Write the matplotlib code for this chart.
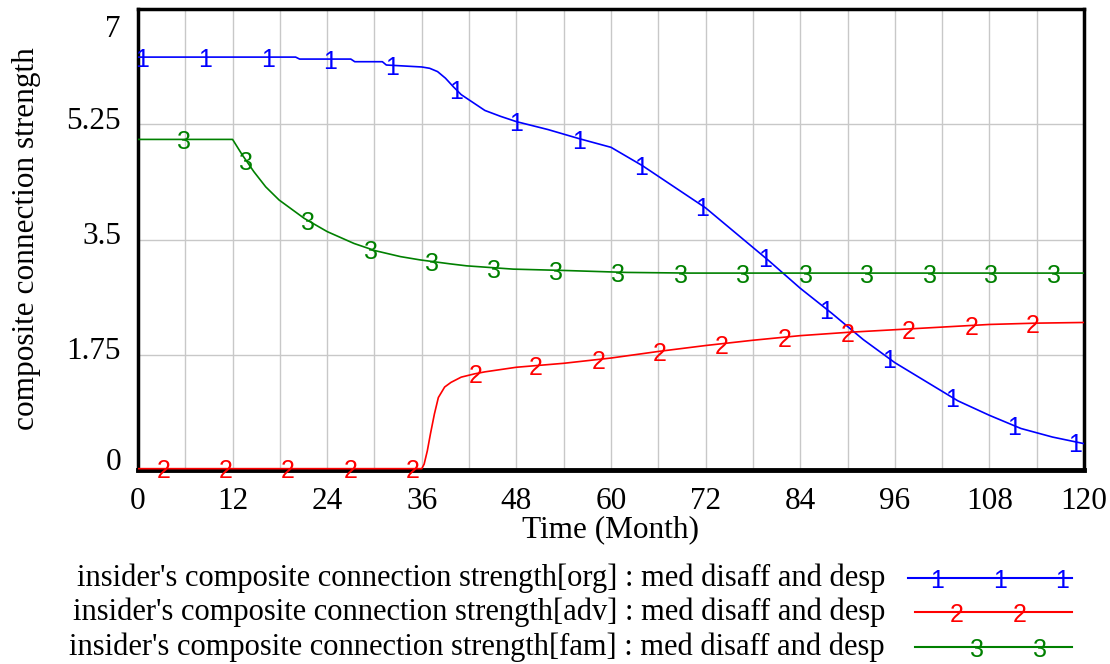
import numpy as np
import matplotlib
matplotlib.use("Agg")
import matplotlib.pyplot as plt
import matplotlib.transforms as mtrans
from matplotlib.lines import Line2D

# values
t_org = [0, 20, 20.5, 27, 27.5, 31, 31.5, 36, 37, 38, 39, 40, 41, 42, 44, 46, 48,
         52, 56, 60, 64, 68, 72, 76, 80, 84, 88, 92, 96, 100, 104, 108, 112, 116, 120]
org = [6.27, 6.27, 6.24, 6.24, 6.20, 6.20, 6.15, 6.12, 6.10, 6.05, 5.95, 5.82, 5.70,
       5.62, 5.46, 5.37, 5.29, 5.17, 5.03, 4.90, 4.62, 4.30, 3.98, 3.58, 3.18, 2.76,
       2.38, 1.98, 1.63, 1.34, 1.05, 0.83, 0.63, 0.50, 0.40]

t_adv = [0, 36, 36.3, 36.7, 37.1, 37.6, 38.1, 38.9, 39.7, 41, 42.7, 44, 48, 54, 60,
         66, 72, 78, 84, 90, 96, 102, 108, 114, 120]
adv = [0.02, 0.02, 0.09, 0.29, 0.55, 0.85, 1.10, 1.26, 1.33, 1.41, 1.46, 1.49, 1.56,
       1.62, 1.70, 1.80, 1.89, 1.97, 2.04, 2.09, 2.13, 2.17, 2.21, 2.23, 2.24]

t_fam = [0, 12, 13.2, 14.7, 16.2, 17.9, 21.1, 24, 27.4, 30.1, 33.3, 35.8, 39.6, 41.7,
         47.6, 54, 62, 70, 120]
fam = [5.02, 5.02, 4.79, 4.53, 4.30, 4.10, 3.82, 3.62, 3.44, 3.33, 3.24, 3.19, 3.13,
       3.10, 3.05, 3.03, 3.00, 2.99, 2.99]

# where the series number labels sit along each line
mk_org = [0.5, 8.5, 16.5, 24.4, 32.2, 40.3, 48, 56, 63.8, 71.6, 79.5, 87.3, 95.3,
          103.2, 111.1, 118.9]
mk_adv = [3.2, 11.1, 19.0, 27.0, 34.8, 42.8, 50.5, 58.4, 66.2, 74.0, 82.0, 90.0,
          97.8, 105.7, 113.5]
mk_fam = [5.8, 13.7, 21.6, 29.5, 37.3, 45.2, 53.0, 60.9, 68.9, 76.7, 84.7, 92.5,
          100.4, 108.2, 116.2]

y_ticks = [0, 1.75, 3.5, 5.25, 7]
y_ticklabels = ["0", "1.75", "3.5", "5.25", "7"]
x_ticks = list(range(0, 121, 12))

labels = ["insider's composite connection strength[org] : med disaff and desp",
          "insider's composite connection strength[adv] : med disaff and desp",
          "insider's composite connection strength[fam] : med disaff and desp"]
colors = ["#0000ff", "#ff0000", "#008000"]

series = [(t_org, org, mk_org, "1"), (t_adv, adv, mk_adv, "2"), (t_fam, fam, mk_fam, "3")]

serif = "Liberation Serif"
fs = 22.5

fig = plt.figure(figsize=(11.1, 6.64), dpi=100)
ax = fig.add_axes([0.1243, 0.2922, 0.9766 - 0.1243, 0.9864 - 0.2922])

ax.set_xlim(0, 120)
ax.set_ylim(0, 7)
ax.set_xticks(np.arange(0, 121, 6), minor=True)
ax.set_xticks(x_ticks)
ax.set_yticks(y_ticks)
ax.set_yticklabels([])
ax.grid(True, which="both", axis="x", color="#c8c8c8", lw=1)
ax.grid(True, axis="y", color="#c8c8c8", lw=1)
ax.tick_params(which="both", length=0)
ax.tick_params(axis="x", pad=12)
ax.set_xticklabels([str(v) for v in x_ticks], fontfamily=serif, fontsize=fs)
for s in ax.spines.values():
    s.set_linewidth(2.5)
ax.spines["bottom"].set_linewidth(3.5)

# y tick labels placed the Vensim way: end labels pulled inside the axis range
ytr = ax.get_yaxis_transform()
for v, lab in zip(y_ticks, y_ticklabels):
    if v == 0:
        va, dy = "baseline", 0
    elif v == 7:
        va, dy = "top", -6
    else:
        va, dy = "center", 3
    off = mtrans.offset_copy(ytr, fig=fig, x=-17, y=dy, units="dots")
    ax.text(0, v, lab, transform=off, ha="right", va=va, fontfamily=serif, fontsize=fs)

for (t, v, mk, num), c in zip(series, colors):
    ax.plot(t, v, color=c, lw=1.2, zorder=3)
    for m in mk:
        ax.annotate(num, (m, np.interp(m, t, v)), xytext=(0, -2), textcoords="offset points",
                    ha="center", va="center", color=c, fontsize=18,
                    fontfamily="Liberation Sans", zorder=4, annotation_clip=False)

fig.text(611 / 1110, 1 - 530 / 664, "Time (Month)", ha="center", va="center",
         fontfamily=serif, fontsize=22.5)
fig.text(27 / 1110, 1 - 239 / 664, "composite connection strength", ha="center",
         va="center", rotation=90, fontfamily=serif, fontsize=22.5)

# legend drawn by hand, Vensim style
rows_y = [578, 612, 647]
line_x0 = [908, 915, 915]
leg_marks = [[937, 1000, 1062], [957, 1020], [977, 1040]]
for lab, c, yy, x0, lm, num in zip(labels, colors, rows_y, line_x0, leg_marks, ["1", "2", "3"]):
    fy = 1 - yy / 664
    fig.text(885 / 1110, fy, lab, ha="right", va="center", fontfamily=serif, fontsize=22)
    fig.add_artist(Line2D([x0 / 1110, 1072 / 1110], [fy, fy], color=c, lw=1.5))
    for mx in lm:
        fig.text(mx / 1110, fy - 3 / 664, num, ha="center", va="center", color=c,
                 fontsize=18, fontfamily="Liberation Sans")

fig.savefig("out.png", dpi=100)
